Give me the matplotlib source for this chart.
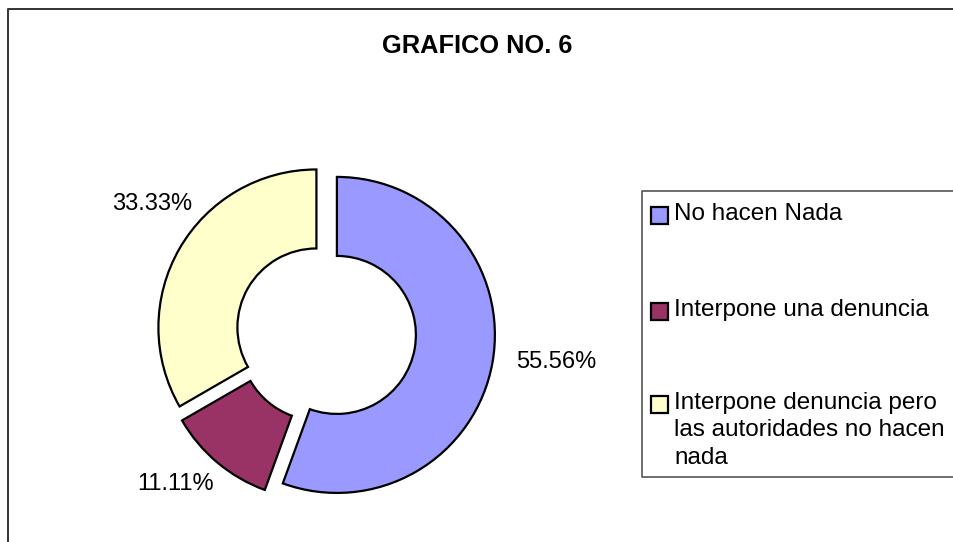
import numpy as np
import matplotlib
matplotlib.use("Agg")
import matplotlib.pyplot as plt
from matplotlib.patches import Rectangle
from matplotlib.lines import Line2D

plt.rcParams["font.family"] = ["Liberation Sans", "DejaVu Sans"]

TITLE = "GRAFICO NO. 6"
CATEGORIES = [
    "No hacen Nada",
    "Interpone una denuncia",
    "Interpone denuncia pero\nlas autoridades no hacen\nnada",
]
VALUES = [55.56, 11.11, 33.33]
PCT_LABELS = ["55.56%", "11.11%", "33.33%"]
COLORS = ["#9999FF", "#993366", "#FFFFCC"]

W, H = 954, 542
CX, CY, R = 326, 333, 158  # pie centre and radius in pixels
LIM = 1.3
# label placement (radius in R units, angle in degrees from wedge centre)
LABEL_POS = [(1.40, -7), (1.28, -135), (1.30, 143)]
LEGEND_TOPS = [203, 299, 392]


def px(x, y):
    return x / W, 1 - y / H


def fig_line(xs, ys, **kw):
    fig.add_artist(Line2D([x / W for x in xs], [1 - y / H for y in ys],
                          transform=fig.transFigure, solid_capstyle="butt", **kw))


fig = plt.figure(figsize=(W / 100, H / 100), dpi=100)
fig.patch.set_facecolor("white")

# outer chart frame (only top and left are visible)
fig_line((W, 8, 8), (8.5, 8.5, H), color="#333333", lw=1.4)

fig.text(*px(477, 46), TITLE, ha="center", va="center",
         fontsize=18.3, fontweight="bold")

side = 2 * LIM * R
ax = fig.add_axes([(CX - side / 2) / W, (H - CY - side / 2) / H, side / W, side / H])
wedges, _ = ax.pie(
    VALUES,
    colors=COLORS,
    startangle=90,
    counterclock=False,
    explode=[0.07] * len(VALUES),
    radius=1,
    wedgeprops=dict(width=0.5, edgecolor="black", linewidth=1.6),
)
ax.set_xlim(-LIM, LIM)
ax.set_ylim(-LIM, LIM)
ax.set_aspect("auto")
ax.axis("off")

for w, lab, (rr, ang) in zip(wedges, PCT_LABELS, LABEL_POS):
    cx, cy = w.center
    a = np.deg2rad(ang)
    x, y = cx + rr * np.cos(a), cy + rr * np.sin(a)
    ax.text(x, y, lab, ha="center", va="center", fontsize=17)

# legend box (right edge falls outside the picture)
fig_line((W, 642, 642, W), (191, 191, 477, 477), color="#555555", lw=1.2)
for lab, col, top in zip(CATEGORIES, COLORS, LEGEND_TOPS):
    yc = top + 12
    fig.add_artist(Rectangle(px(651, yc + 8.5), 17 / W, 17 / H,
                             transform=fig.transFigure, fc=col,
                             ec="black", lw=1.6))
    fig.text(*px(674, top), lab, ha="left", va="top",
             fontsize=17.5, linespacing=1.32)

fig.savefig("out.png", dpi=100)
